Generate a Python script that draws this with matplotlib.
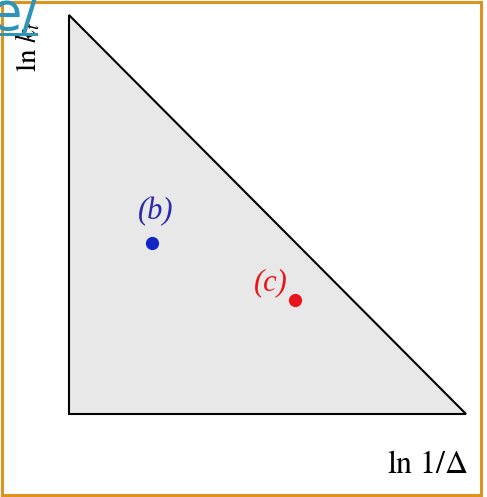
import matplotlib.pyplot as plt
from matplotlib.patches import Polygon, Rectangle

plt.rcParams['mathtext.fontset'] = 'stix'
plt.rcParams['font.family'] = 'Liberation Serif'

# region corners in (ln 1/Delta, ln k_t) units
region_x = [0.0, 0.0, 1.0]
region_y = [1.0, 0.0, 0.0]

# marked parameter points
point_names = ['(b)', '(c)']
point_x = [0.209, 0.569]
point_y = [0.429, 0.286]
point_colors = ['#1126c4', '#e8141a']
label_colors = ['#2a2ab0', '#e8141a']
label_dx = [0.010, -0.060]
label_dy = [0.078, 0.042]

W, H = 487, 497
fig = plt.figure(figsize=(W / 100, H / 100), dpi=100)

ax = fig.add_axes([69 / W, 1 - 414 / H, 397 / W, 399 / H])
ax.set_xlim(0, 1)
ax.set_ylim(0, 1)
ax.axis('off')

tri = Polygon(list(zip(region_x, region_y)), closed=True,
              facecolor='#e8e8e8', edgecolor='black', linewidth=1.5,
              joinstyle='miter', clip_on=False)
ax.add_patch(tri)

for name, x, y, pc, lc, dx, dy in zip(point_names, point_x, point_y,
                                      point_colors, label_colors,
                                      label_dx, label_dy):
    ax.plot(x, y, 'o', color=pc, markersize=8.5, clip_on=False)
    ax.text(x + dx, y + dy, name, color=lc, fontstyle='italic',
            fontsize=22, ha='center', va='center')

# axis labels
fig.text(468 / W, 1 - 473 / H, r'$\mathrm{ln}\ 1/\Delta$', fontsize=23,
         ha='right', va='baseline')
fig.text(28 / W, 1 - 72 / H, r'$\mathrm{ln}\ k_t$', fontsize=21,
         rotation=90, ha='center', va='bottom')

# frame around the figure
fig.add_artist(Rectangle((1.5 / W, 1 - 494.5 / H), 479 / W, 492.5 / H,
                         transform=fig.transFigure, fill=False,
                         edgecolor='#e0921e', linewidth=2.2))

# link fragment in the corner, underlined
fig.text(-11 / W, 1 - 30 / H, 'e/', color='#2e94b8', fontsize=38,
         family='DejaVu Sans', ha='left', va='baseline', zorder=5)
fig.add_artist(Rectangle((0, 1 - 36 / H), 38 / W, 3 / H,
                         transform=fig.transFigure, facecolor='#2e94b8',
                         edgecolor='none', zorder=6))

fig.savefig('out.png', dpi=100)
